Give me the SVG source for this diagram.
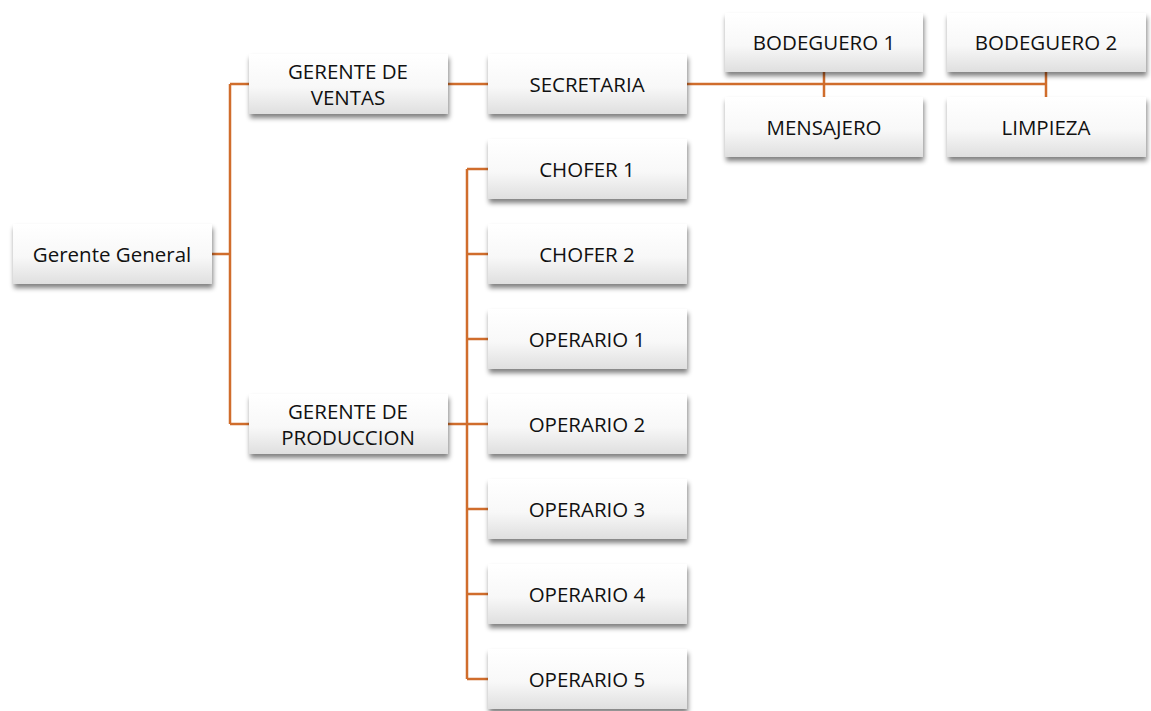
<svg xmlns="http://www.w3.org/2000/svg" width="1151" height="711" viewBox="0 0 1151 711">
<defs>
<linearGradient id="g" x1="0" y1="0" x2="0" y2="1">
<stop offset="0" stop-color="#ffffff"/>
<stop offset="0.55" stop-color="#f8f8f8"/>
<stop offset="1" stop-color="#dfdfdf"/>
</linearGradient>
<filter id="sh" x="-10%" y="-20%" width="120%" height="150%">
<feGaussianBlur in="SourceAlpha" stdDeviation="2.5"/>
<feOffset dx="1" dy="4" result="b"/>
<feComponentTransfer><feFuncA type="linear" slope="0.5"/></feComponentTransfer>
<feMerge><feMergeNode/><feMergeNode in="SourceGraphic"/></feMerge>
</filter>
<style>
.box{fill:url(#g);filter:url(#sh);}
.t{font-family:"Open Sans","Liberation Sans",sans-serif;font-size:20.5px;fill:#111;text-anchor:middle;dominant-baseline:central;}
.c{fill:none;stroke:#d06d2c;stroke-width:2.5;}
</style>
</defs>
<rect width="1151" height="711" fill="#ffffff"/>
<g id="connectors">
<path class="c" d="M212 254 H230 M230 84 V424 M230 84 H249 M230 424 H249"/>
<path class="c" d="M448 84 H488"/>
<path class="c" d="M448 424 H488 M467 169 V679 M467 169 H488 M467 254 H488 M467 339 H488 M467 509 H488 M467 594 H488 M467 679 H488"/>
<path class="c" d="M687 84 H1046 M824 72 V97 M1046 72 V97"/>
</g>
<g id="gerente-general"><rect class="box" x="13" y="224" width="199" height="60"/><text class="t" x="112" y="254">Gerente General</text></g>
<g id="gerente-ventas"><rect class="box" x="249" y="54" width="199" height="60"/><text class="t" x="348" y="71">GERENTE DE</text><text class="t" x="348" y="97">VENTAS</text></g>
<g id="gerente-produccion"><rect class="box" x="249" y="394" width="199" height="60"/><text class="t" x="348" y="411">GERENTE DE</text><text class="t" x="348" y="437">PRODUCCION</text></g>
<g id="secretaria"><rect class="box" x="488" y="54" width="199" height="60"/><text class="t" x="587" y="84">SECRETARIA</text></g>
<g id="chofer1"><rect class="box" x="488" y="139" width="199" height="60"/><text class="t" x="587" y="169">CHOFER 1</text></g>
<g id="chofer2"><rect class="box" x="488" y="224" width="199" height="60"/><text class="t" x="587" y="254">CHOFER 2</text></g>
<g id="operario1"><rect class="box" x="488" y="309" width="199" height="60"/><text class="t" x="587" y="339">OPERARIO 1</text></g>
<g id="operario2"><rect class="box" x="488" y="394" width="199" height="60"/><text class="t" x="587" y="424">OPERARIO 2</text></g>
<g id="operario3"><rect class="box" x="488" y="479" width="199" height="60"/><text class="t" x="587" y="509">OPERARIO 3</text></g>
<g id="operario4"><rect class="box" x="488" y="564" width="199" height="60"/><text class="t" x="587" y="594">OPERARIO 4</text></g>
<g id="operario5"><rect class="box" x="488" y="649" width="199" height="60"/><text class="t" x="587" y="679">OPERARIO 5</text></g>
<g id="bodeguero1"><rect class="box" x="725" y="13" width="198" height="59"/><text class="t" x="824" y="42">BODEGUERO 1</text></g>
<g id="bodeguero2"><rect class="box" x="947" y="13" width="199" height="59"/><text class="t" x="1046" y="42">BODEGUERO 2</text></g>
<g id="mensajero"><rect class="box" x="725" y="97" width="198" height="60"/><text class="t" x="824" y="127">MENSAJERO</text></g>
<g id="limpieza"><rect class="box" x="947" y="97" width="199" height="60"/><text class="t" x="1046" y="127">LIMPIEZA</text></g>
</svg>
